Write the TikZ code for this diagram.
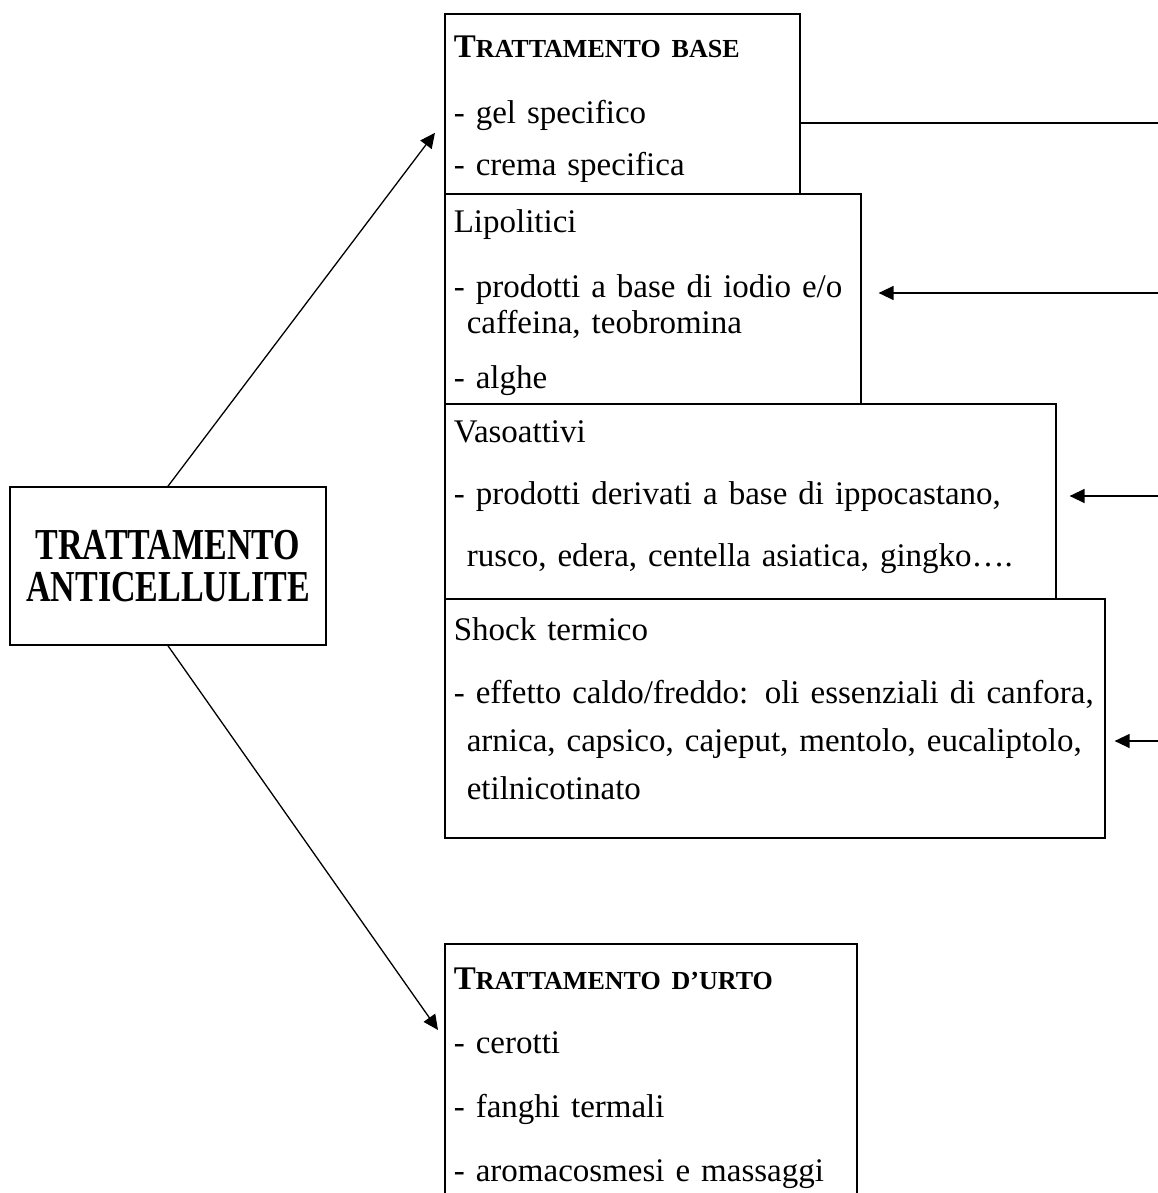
\documentclass[tikz,border=0pt]{standalone}
\usepackage{fontspec}
\usepackage{graphicx}
\setmainfont{Liberation Serif}
\usetikzlibrary{arrows.meta,positioning}
% small-caps look for the panel titles: big first letter, rest smaller
\newcommand{\ttl}[2]{\textbf{#1{\fontsize{26}{40}\selectfont #2}}}
% tall bold caps of the main box
\newcommand{\tallcaps}[1]{\scalebox{1}[1.3]{#1}}

\begin{document}
\begin{tikzpicture}[x=1pt,y=-1pt,
  root/.style={rectangle, draw, line width=1.6pt, minimum width=316pt, minimum height=158pt, align=center, font=\fontsize{34}{40}\selectfont\bfseries, inner sep=0pt},
  panel/.style={rectangle, draw, line width=1.6pt, anchor=north west, align=left, inner xsep=9pt, inner ysep=0pt, font=\fontsize{33}{40}\selectfont},
  carr/.style={-{Triangle[length=15pt,width=14pt]}, line width=1.3pt},
  link/.style={line width=1.3pt},
]
\useasboundingbox (0,0) rectangle (1158,1193);

% --- left: the main box ---
\node[root] (cell) at (168,566) {\tallcaps{TRATTAMENTO}\\[2pt]\tallcaps{ANTICELLULITE}};

% --- right column: stacked panels, all sharing the same left edge;
%     each line is kept in an \mbox so nothing wraps ---
\def\xL{444}
\node[panel, text width=337pt, text height=44pt, text depth=136pt] (base) at (\xL,13)
  {\ttl{T}{RATTAMENTO BASE}\\[26pt] - gel specifico\\[12pt] - crema specifica};
\node[panel, text width=398pt, text height=39pt, text depth=171pt] (lipo) at (\xL,193)
  {Lipolitici\\[25pt] \mbox{- prodotti a base di iodio e/o}\\[-4pt] \hspace*{13pt}caffeina, teobromina\\[15pt] - alghe};
\node[panel, text width=593pt, text height=39pt, text depth=156pt] (vaso) at (\xL,403)
  {Vasoattivi\\[22pt] \mbox{- prodotti derivati a base di ippocastano,}\\[22pt] \hspace*{13pt}\mbox{rusco, edera, centella asiatica, gingko….}};
\node[panel, text width=642pt, text height=42pt, text depth=197pt] (shock) at (\xL,598)
  {Shock termico\\[23pt] \mbox{- effetto caldo/freddo: oli essenziali di canfora,}\\[8pt] \hspace*{13pt}\mbox{arnica, capsico, cajeput, mentolo, eucaliptolo,}\\[8pt] \hspace*{13pt}etilnicotinato};

% --- bottom panel (runs off the lower edge) ---
\node[panel, text width=394pt, text height=46pt, text depth=207pt] (urto) at (\xL,943)
  {\ttl{T}{RATTAMENTO D’URTO}\\[24pt] - cerotti\\[24pt] - fanghi termali\\[24pt] - aromacosmesi e massaggi};

% --- arrows out of the main box ---
\draw[carr] (cell.north) -- ([xshift=-9pt,yshift=-29pt]base.west);
\draw[carr] (cell.south) -- ([xshift=-6pt,yshift=-87pt]urto.north west);

% --- right rail: the lines come in from the page edge ---
\def\xRail{1158}
\coordinate (railA) at (\xRail,123);
\coordinate (railB) at (\xRail,293);
\coordinate (railC) at (\xRail,496);
\coordinate (railD) at (\xRail,741);
\draw[link] (base.east |- railA) -- (railA);
\draw[carr, shorten >=17pt] (railB) -- (railB -| lipo.east);
\draw[carr, shorten >=13pt] (railC) -- (railC -| vaso.east);
\draw[carr, shorten >=9pt] (railD) -- (railD -| shock.east);

\end{tikzpicture}
\end{document}
